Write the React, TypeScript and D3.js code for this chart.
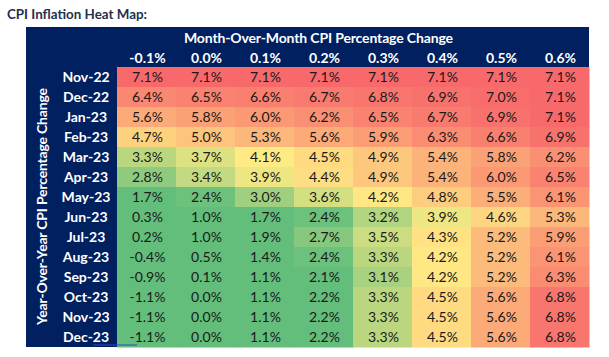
import React from "react";
import * as d3 from "d3";

const title = "CPI Inflation Heat Map:";
const colHeader = "Month-Over-Month CPI Percentage Change";
const rowHeader = "Year-Over-Year CPI Percentage Change";
const momLabels = ["-0.1%", "0.0%", "0.1%", "0.2%", "0.3%", "0.4%", "0.5%", "0.6%"];
const months = ["Nov-22", "Dec-22", "Jan-23", "Feb-23", "Mar-23", "Apr-23", "May-23", "Jun-23", "Jul-23", "Aug-23", "Sep-23", "Oct-23", "Nov-23", "Dec-23"];
const nov22 = [7.1, 7.1, 7.1, 7.1, 7.1, 7.1, 7.1, 7.1];
const dec22 = [6.4, 6.5, 6.6, 6.7, 6.8, 6.9, 7.0, 7.1];
const jan23 = [5.6, 5.8, 6.0, 6.2, 6.5, 6.7, 6.9, 7.1];
const feb23 = [4.7, 5.0, 5.3, 5.6, 5.9, 6.3, 6.6, 6.9];
const mar23 = [3.3, 3.7, 4.1, 4.5, 4.9, 5.4, 5.8, 6.2];
const apr23 = [2.8, 3.4, 3.9, 4.4, 4.9, 5.4, 6.0, 6.5];
const may23 = [1.7, 2.4, 3.0, 3.6, 4.2, 4.8, 5.5, 6.1];
const jun23 = [0.3, 1.0, 1.7, 2.4, 3.2, 3.9, 4.6, 5.3];
const jul23 = [0.2, 1.0, 1.9, 2.7, 3.5, 4.3, 5.2, 5.9];
const aug23 = [-0.4, 0.5, 1.4, 2.4, 3.3, 4.2, 5.2, 6.1];
const sep23 = [-0.9, 0.1, 1.1, 2.1, 3.1, 4.2, 5.2, 6.3];
const oct23 = [-1.1, 0.0, 1.1, 2.2, 3.3, 4.5, 5.6, 6.8];
const nov23 = [-1.1, 0.0, 1.1, 2.2, 3.3, 4.5, 5.6, 6.8];
const dec23 = [-1.1, 0.0, 1.1, 2.2, 3.3, 4.5, 5.6, 6.8];
const values = [nov22, dec22, jan23, feb23, mar23, apr23, may23, jun23, jul23, aug23, sep23, oct23, nov23, dec23];
const colorStops = [2.3, 4.1, 7.1];

const W = 609, H = 357;
const NAVY = "#002060";
const panel = { x: 26, y: 27, r: 589, b: 347 };
const grid = { x: 117, y: 67, r: 589, b: 347 };
const FONT = "Lato, 'Open Sans', sans-serif";

export default function App() {
  const x = d3.scaleBand<string>().domain(momLabels).range([grid.x, grid.r]);
  const y = d3.scaleBand<string>().domain(months).range([grid.y, grid.b]);
  const color = d3.scaleLinear<string>()
    .domain(colorStops)
    .range(["#63BE7B", "#FFEB84", "#F8696B"])
    .interpolate(d3.interpolateRgb)
    .clamp(true);

  const sq: [number, number][] = [];
  for (let px = 93; px <= 137; px += 2) sq.push([px, 344 + ((px / 2) % 2 === 0 ? -1 : 1)]);
  const line = d3.line();

  return (
    <svg width={W} height={H} style={{ position: "absolute", left: 0, top: 0, background: "#fff" }} fontFamily={FONT}>
      <text x={7} y={19} fontSize={14} fontWeight={700} fill="#1F2F4F" textLength={140} lengthAdjust="spacingAndGlyphs">{title}</text>
      <rect x={panel.x} y={panel.y} width={panel.r - panel.x} height={panel.b - panel.y} fill={NAVY} />
      <text x={184} y={43} fontSize={14} fontWeight={700} fill="#fff" textLength={269} lengthAdjust="spacing">{colHeader}</text>
      {momLabels.map((m) => (
        <text key={m} x={(x(m) as number) + x.bandwidth() / 2 + 1} y={63} textAnchor="middle" fontSize={14} fontWeight={700} fill="#fff">{m}</text>
      ))}
      <text transform={`translate(47,206.5) rotate(-90)`} textAnchor="middle" fontSize={14} fontWeight={700} fill="#fff" textLength={237} lengthAdjust="spacing">{rowHeader}</text>
      {months.map((m) => (
        <text key={m} x={86} y={(y(m) as number) + y.bandwidth() / 2 + 5} textAnchor="middle" fontSize={14} fontWeight={700} fill="#fff">{m}</text>
      ))}
      {values.map((row, i) =>
        row.map((v, j) => (
          <g key={`${i}-${j}`}>
            <rect x={x(momLabels[j])} y={y(months[i])} width={x.bandwidth() + 0.5} height={y.bandwidth() + 0.5} fill={color(v)} />
            <text x={(x(momLabels[j]) as number) + x.bandwidth() / 2 + 1} y={(y(months[i]) as number) + y.bandwidth() / 2 + 5} textAnchor="middle" fontSize={14} fill="#1a1a1a">{v.toFixed(1)}%</text>
          </g>
        ))
      )}
      <path d={line(sq) as string} fill="none" stroke="#3344cc" strokeWidth={1} />
    </svg>
  );
}
